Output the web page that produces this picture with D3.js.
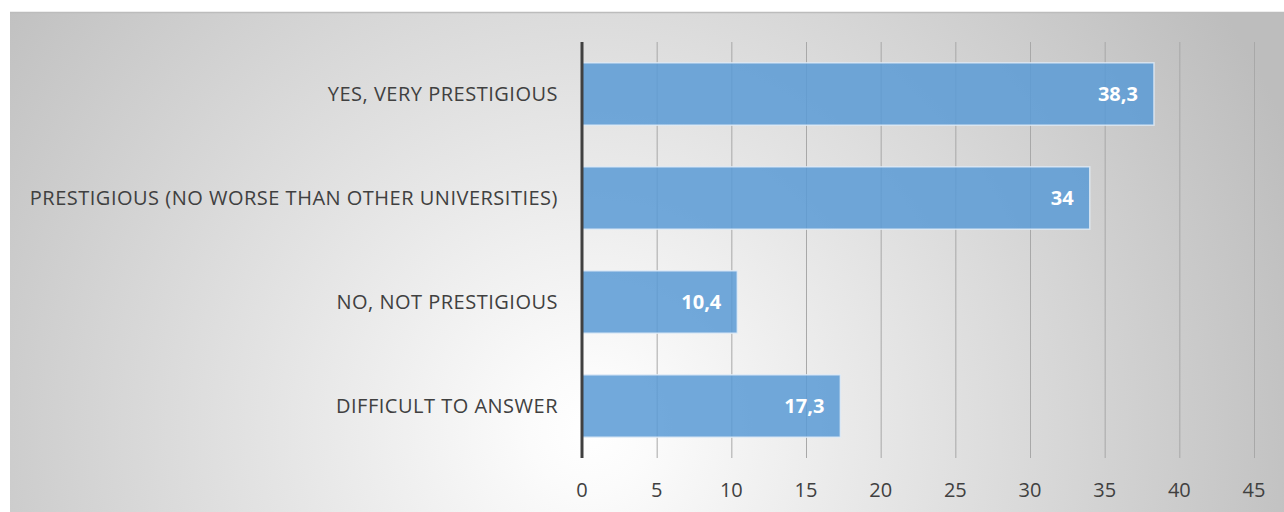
<!DOCTYPE html>
<html>
<head>
<meta charset="utf-8">
<script src="https://cdn.jsdelivr.net/npm/d3@7"></script>
<style>
  html, body { margin: 0; padding: 0; background: #fff; }
  svg { display: block; }
</style>
</head>
<body>
<div id="chart"></div>
<script>
const categories = [
  'YES, VERY PRESTIGIOUS',
  'PRESTIGIOUS (NO WORSE THAN OTHER UNIVERSITIES)',
  'NO, NOT PRESTIGIOUS',
  'DIFFICULT TO ANSWER'
];
const values = [38.3, 34, 10.4, 17.3];
const ticks = [0, 5, 10, 15, 20, 25, 30, 35, 40, 45];

const w = 1284, h = 512;
const plot = { left: 582, right: 1254, top: 42, bottom: 458 };

const svg = d3.select('#chart')
  .append('svg')
  .attr('width', w)
  .attr('height', h);

// background panel with radial gradient
const defs = svg.append('defs');
const grad = defs.append('radialGradient')
  .attr('id', 'bg')
  .attr('gradientUnits', 'userSpaceOnUse')
  .attr('cx', 590).attr('cy', 430).attr('r', 760);
grad.append('stop').attr('offset', '0%').attr('stop-color', '#ffffff');
grad.append('stop').attr('offset', '8%').attr('stop-color', '#fbfbfb');
grad.append('stop').attr('offset', '100%').attr('stop-color', '#bdbdbd');

svg.append('rect')
  .attr('x', 10).attr('y', 12)
  .attr('width', w - 10).attr('height', h - 12)
  .attr('fill', 'url(#bg)');
svg.append('line')
  .attr('x1', 10).attr('x2', w)
  .attr('y1', 12.5).attr('y2', 12.5)
  .attr('stroke', '#bcbcbc')
  .attr('stroke-width', 1.5);

const data = categories.map((c, i) => ({ cat: c, val: values[i] }));

const x = d3.scaleLinear()
  .domain([0, 45])
  .range([plot.left, plot.right]);

const y = d3.scaleBand()
  .domain(categories)
  .range([plot.top, plot.bottom])
  .paddingInner(0.4)
  .paddingOuter(0.2);

// vertical gridlines
svg.append('g')
  .selectAll('line')
  .data(ticks.slice(1))
  .enter()
  .append('line')
  .attr('x1', d => x(d) + 0.5)
  .attr('x2', d => x(d) + 0.5)
  .attr('y1', plot.top)
  .attr('y2', plot.bottom)
  .attr('stroke', '#a8a8a8')
  .attr('stroke-width', 1);

// bars
svg.append('g')
  .selectAll('rect')
  .data(data)
  .enter()
  .append('rect')
  .attr('x', x(0))
  .attr('y', d => y(d.cat))
  .attr('width', d => x(d.val) - x(0))
  .attr('height', y.bandwidth())
  .attr('fill', '#5b9bd5')
  .attr('fill-opacity', 0.86)
  .attr('stroke', '#e4eef8')
  .attr('stroke-opacity', 0.8)
  .attr('stroke-width', 1.5);

// value labels
svg.append('g')
  .selectAll('text')
  .data(data)
  .enter()
  .append('text')
  .attr('x', d => x(d.val) - 16)
  .attr('y', d => y(d.cat) + y.bandwidth() / 2)
  .attr('dy', '0.36em')
  .attr('text-anchor', 'end')
  .style('font-family', '"Open Sans", sans-serif')
  .style('font-size', '20px')
  .style('font-weight', 'bold')
  .style('fill', '#ffffff')
  .text(d => String(d.val).replace('.', ','));

// zero axis line
svg.append('line')
  .attr('x1', x(0)).attr('x2', x(0))
  .attr('y1', plot.top).attr('y2', plot.bottom)
  .attr('stroke', '#404040')
  .attr('stroke-width', 3);

// x tick labels
svg.append('g')
  .selectAll('text')
  .data(ticks)
  .enter()
  .append('text')
  .attr('x', d => x(d))
  .attr('y', 490)
  .attr('dy', '0.36em')
  .attr('text-anchor', 'middle')
  .style('font-family', '"Open Sans", sans-serif')
  .style('font-size', '20px')
  .style('fill', '#404040')
  .text(d => d);

// category labels
svg.append('g')
  .selectAll('text')
  .data(data)
  .enter()
  .append('text')
  .attr('x', 558)
  .attr('y', d => y(d.cat) + y.bandwidth() / 2)
  .attr('dy', '0.36em')
  .attr('text-anchor', 'end')
  .style('font-family', '"Open Sans", sans-serif')
  .style('font-size', '20px')
  .style('letter-spacing', '0.5px')
  .style('fill', '#404040')
  .text(d => d.cat);
</script>
</body>
</html>
